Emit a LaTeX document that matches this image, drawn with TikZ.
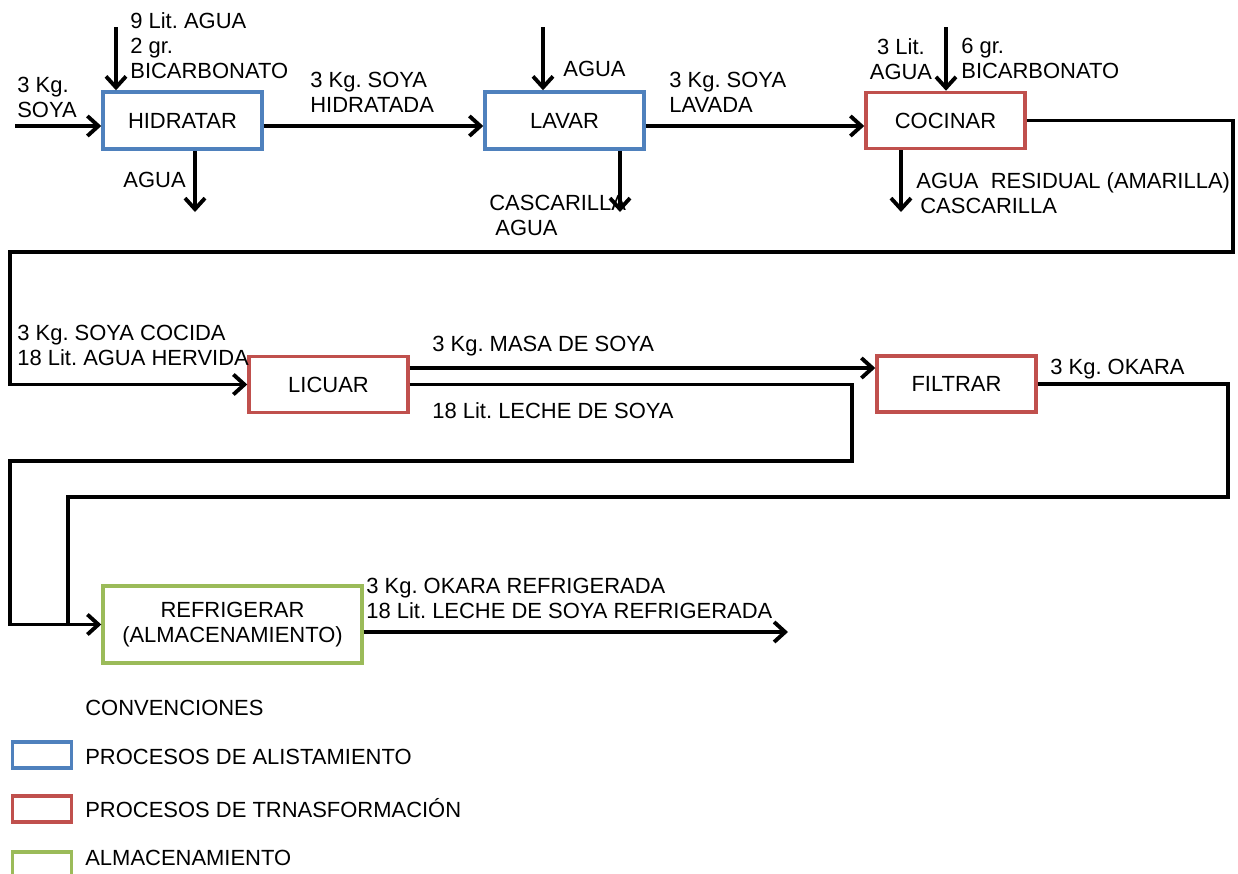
\documentclass[tikz,border=0pt]{standalone}
\usepackage{fontspec}
\setmainfont{Liberation Sans}
\frenchspacing
\usetikzlibrary{arrows.meta}
\definecolor{alisBlue}{RGB}{79,129,189}
\definecolor{transRed}{RGB}{192,80,77}
\definecolor{almGreen}{RGB}{155,187,89}
\tikzset{
  every node/.style={font=\fontsize{12.5}{14.2}\selectfont},
  alis/.style   = {rectangle, draw=alisBlue, line width=2pt, fill=white,
                   minimum width=3.18cm, minimum height=1.14cm, align=center},
  trans/.style  = {rectangle, draw=transRed, line width=2pt, fill=white,
                   minimum width=3.18cm, minimum height=1.12cm, align=center},
  alm/.style    = {rectangle, draw=almGreen, line width=2pt, fill=white,
                   minimum width=5.18cm, minimum height=1.54cm, align=center},
  legbox/.style = {rectangle, line width=2pt, minimum width=1.18cm,
                   minimum height=0.52cm, inner sep=0pt},
  lbl/.style    = {anchor=north west, inner sep=0pt, align=left},
  arrow/.style  = {-{Straight Barb[length=2.2mm,width=4mm,line width=2.2pt]}, line width=2.2pt},
  flow/.style   = {line width=2.2pt},
}

\begin{document}
\begin{tikzpicture}[x=0.02cm, y=-0.02cm]
  \useasboundingbox (0,0) rectangle (1238,873);

  % procesos
  \node[alis]  (hidratar)   at (182.5,120.5) {HIDRATAR};
  \node[alis]  (lavar)      at (564.5,120.5) {LAVAR};
  \node[trans] (cocinar)    at (945.5,120.5) {COCINAR};
  \node[trans] (licuar)     at (328.5,384.5) {LICUAR};
  \node[trans] (filtrar)    at (956.5,384)   {FILTRAR};
  \node[alm]   (refrigerar) at (232.5,624.5) {REFRIGERAR\\(ALMACENAMIENTO)};

  % entradas y salidas
  \coordinate (inSoya) at (15,126);
  \coordinate (inHid)  at (116,27);
  \coordinate (outHid) at (195,212);
  \coordinate (inLav)  at (543,27);
  \coordinate (outLav) at (620,212);
  \coordinate (inCoc)  at (946,27);
  \coordinate (outCoc) at (901,212);
  \coordinate (bendA)  at (1233,252);
  \coordinate (bendB)  at (10,252);
  \coordinate (bendC)  at (852,461);
  \coordinate (bendD)  at (10,461);
  \coordinate (bendE)  at (1228,497);
  \coordinate (bendF)  at (68,497);
  \coordinate (outRef) at (788,632);

  \draw[arrow] (inSoya) -- (hidratar.west |- inSoya);
  \draw[arrow] (inHid) -- (inHid |- hidratar.north);
  \draw[arrow] (outHid |- hidratar.south) -- (outHid);
  \draw[arrow] (hidratar.east |- inSoya) -- (lavar.west |- inSoya);
  \draw[arrow] (inLav) -- (inLav |- lavar.north);
  \draw[arrow] (outLav |- lavar.south) -- (outLav);
  \draw[arrow] (lavar.east |- inSoya) -- (cocinar.west |- inSoya);
  \draw[arrow] (inCoc) -- (inCoc |- cocinar.north);
  \draw[arrow] (outCoc |- cocinar.south) -- (outCoc);
  \draw[arrow] (cocinar.east) -| (bendA) -- (bendB) |- (licuar.west);
  \draw[arrow] ([yshift=0.33cm]licuar.east) -- ([yshift=0.33cm]licuar.east -| filtrar.west);
  \draw[arrow] (licuar.east) -| (bendC) -- (bendD) |- (refrigerar.west);
  \draw[flow]  (filtrar.east) -| (bendE) -- (bendF) -- (bendF |- refrigerar.west);
  \draw[arrow] (refrigerar.east |- outRef) -- (outRef);

  % rotulos
  \node[lbl] (tAguaBic) at (130,12)  {9 Lit. AGUA\\2 gr.\\BICARBONATO};
  \node[lbl] (tSoya)    at (17,77)   {3 Kg.\\SOYA};
  \node[lbl, anchor=north east] (tAguaHid) at (186,172) {AGUA};
  \node[lbl] (tHid)     at (310,72)  {3 Kg. SOYA\\HIDRATADA};
  \node[lbl] (tAguaLav) at (563,61)  {AGUA};
  \node[lbl] (tLav)     at (669,72)  {3 Kg. SOYA\\LAVADA};
  \node[lbl] (tCasLav)  at (489,195) {CASCARILLA\\\hspace{0.12cm}AGUA};
  \node[lbl, anchor=north, align=center] (tAguaCoc) at (901,38) {3 Lit.\\AGUA};
  \node[lbl] (tBicCoc)  at (961,38)  {6 gr.\\BICARBONATO};
  \node[lbl] (tResCoc)  at (916,172) {AGUA\ \ RESIDUAL (AMARILLA)\\\hspace{0.08cm}CASCARILLA};
  \node[lbl] (tCocida)  at (17,325)  {3 Kg. SOYA COCIDA\\18 Lit. AGUA HERVIDA};
  \node[lbl] (tMasa)    at (432,336) {3 Kg. MASA DE SOYA};
  \node[lbl] (tLeche)   at (432,402) {18 Lit. LECHE DE SOYA};
  \node[lbl] (tOkara)   at (1050,359) {3 Kg. OKARA};
  \node[lbl] (tRef)     at (366,578) {3 Kg. OKARA REFRIGERADA\\18 Lit. LECHE DE SOYA REFRIGERADA};

  % convenciones
  \node[lbl] (tConv) at (85,700) {CONVENCIONES};
  \node[legbox, draw=alisBlue]  (legAlis)  at (42,755) {};
  \node[legbox, draw=transRed]  (legTrans) at (42,809) {};
  \node[legbox, draw=almGreen]  (legAlm)   at (42,865) {};
  \node[lbl] (tAlis)  at (85,749) {PROCESOS DE ALISTAMIENTO};
  \node[lbl] (tTrans) at (85,798) {PROCESOS DE TRNASFORMACIÓN};
  \node[lbl] (tAlm)   at (85,850) {ALMACENAMIENTO};
\end{tikzpicture}
\end{document}
